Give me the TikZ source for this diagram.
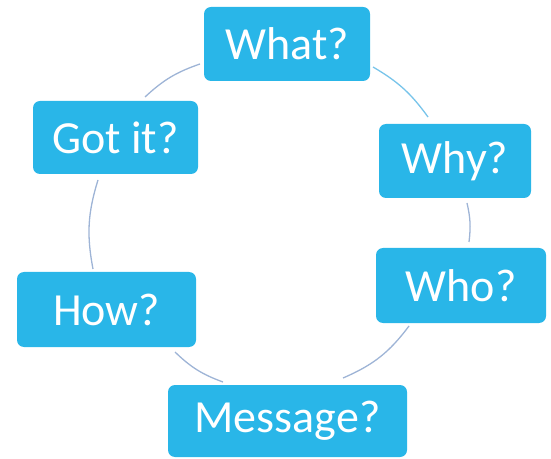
\documentclass[tikz,border=0pt]{standalone}
\usepackage{fontspec}
\setmainfont{Carlito}
\definecolor{boxblue}{RGB}{41,182,232}
\definecolor{ringgray}{RGB}{158,180,214}
\definecolor{ringcyan}{RGB}{120,196,234}
\begin{document}
\begin{tikzpicture}[x=1pt,y=1pt,
  qbox/.style={rectangle, rounded corners=7pt, fill=boxblue, draw=none,
    text=white, inner sep=0pt, minimum height=74pt,
    font=\fontsize{46}{52}\selectfont},
  ring/.style={draw=ringgray, line width=1.3pt},
  ringc/.style={draw=ringcyan, line width=1.3pt}]
\useasboundingbox (0,0) rectangle (551,458);
% boxes
\node[qbox, minimum width=166pt] (what) at (287,414) {What?};
\node[qbox, minimum width=152pt] (why) at (455,297) {Why?};
\node[qbox, minimum width=170pt, minimum height=75pt] (who) at (461,172.5) {Who?};
\node[qbox, minimum width=239pt, minimum height=72pt] (msg) at (287.5,37) {Message?};
\node[qbox, minimum width=179pt, minimum height=75pt] (how) at (106.5,148.5) {How?};
\node[qbox, minimum width=165pt, minimum height=73pt] (got) at (115.5,320.5) {Got it?};
% ring end points
\coordinate (g1) at (145,361);
\coordinate (w1) at (200,394);
\coordinate (w2) at (373,391);
\coordinate (y1) at (428,341);
\coordinate (y2) at (467,255);
\coordinate (o1) at (469,216);
\coordinate (o2) at (409,132);
\coordinate (m1) at (343,80);
\coordinate (m2) at (223,76);
\coordinate (h1) at (175,106);
\coordinate (h2) at (93,189);
\coordinate (g2) at (98,278);
% ring segments
\draw[ring] (g1) to[bend left=12] (w1);
\draw[ringc] (w2) to[bend left=12] (y1);
\draw[ring] (y2) to[bend left=10] (o1);
\draw[ring] (o2) to[bend left=15] (m1);
\draw[ring] (m2) to[bend left=12] (h1);
\draw[ring] (h2) to[bend left=14] (g2);
\end{tikzpicture}
\end{document}
